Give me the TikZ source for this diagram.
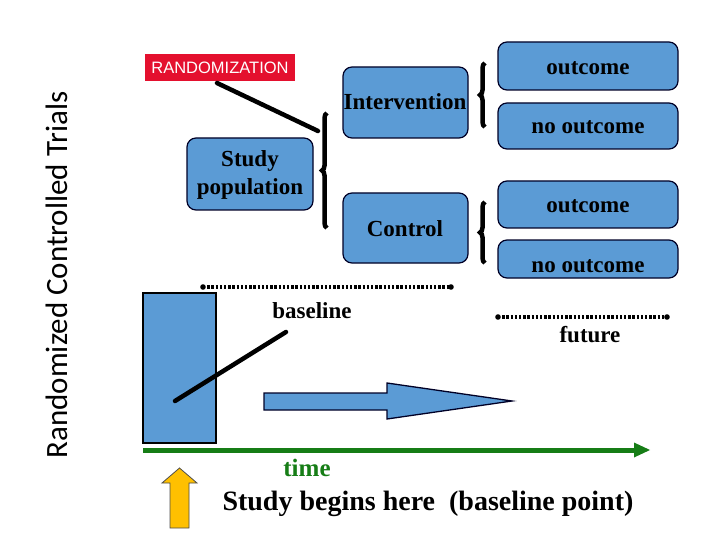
\documentclass[tikz,border=0pt]{standalone}
\usepackage{fontspec}
\setmainfont{Liberation Serif}
\newfontfamily\titlefont{Carlito}
\newfontfamily\arialfont{Liberation Sans}
\usetikzlibrary{decorations.pathreplacing}
\definecolor{boxblue}{RGB}{91,155,213}
\definecolor{randred}{RGB}{228,16,46}
\definecolor{timegreen}{RGB}{22,125,22}
\definecolor{arrowyellow}{RGB}{255,192,0}
\tikzset{
  rbox/.style={draw=black!85!blue, line width=1.2pt, fill=boxblue, rounded corners=9pt, inner sep=0pt},
  lbl/.style={font=\bfseries\fontsize{23}{28}\selectfont, inner sep=0pt, align=center},
  bracestyle/.style={decorate, decoration={brace, amplitude=5pt}, line width=4.5pt},
  dotline/.style={line width=4pt, dash pattern=on 2.4pt off 1.8pt},
  thickline/.style={line width=4.5pt, line cap=round}
}
\begin{document}
\begin{tikzpicture}[x=1pt,y=-1pt]
\useasboundingbox (0,0) rectangle (720,540);
% title
\node[rotate=90, font=\titlefont\fontsize{31}{36}\selectfont, inner sep=0pt] (title) at (57,275) {Randomized Controlled Trials};
% randomization
\node[fill=randred, minimum width=150pt, minimum height=27pt, inner sep=0pt, font=\arialfont\fontsize{16.5}{18}\selectfont, text=white] (rand) at (220,68) {RANDOMIZATION};
% boxes
\node[rbox, minimum width=126pt, minimum height=72pt] (study) at (250,174) {};
\node[lbl] (studyt) at (250,175) {Study\\population};
\node[rbox, minimum width=125pt, minimum height=71pt] (interv) at (405.5,102.5) {};
\node[lbl] (intervt) at (405,102) {Intervention};
\node[rbox, minimum width=125pt, minimum height=70pt] (control) at (405.5,228) {};
\node[lbl] (controlt) at (405,229) {Control};
\node[rbox, minimum width=180pt, minimum height=48pt] (o1) at (588,66) {};
\node[lbl] (o1t) at (588,68) {outcome};
\node[rbox, minimum width=180pt, minimum height=46pt] (o2) at (588,126) {};
\node[lbl] (o2t) at (588,127) {no outcome};
\node[rbox, minimum width=180pt, minimum height=47pt] (o3) at (588,204.5) {};
\node[lbl] (o3t) at (588,206) {outcome};
\node[rbox, minimum width=180pt, minimum height=38pt] (o4) at (588,259) {};
\node[lbl] (o4t) at (588,266) {no outcome};
% braces
\coordinate (b1a) at (327,228); \coordinate (b1b) at (327,113);
\draw[bracestyle] (b1a) -- (b1b);
\coordinate (b2a) at (485,127); \coordinate (b2b) at (485,63);
\draw[bracestyle] (b2a) -- (b2b);
\coordinate (b3a) at (485,263); \coordinate (b3b) at (485,202);
\draw[bracestyle] (b3a) -- (b3b);
% randomization line
\coordinate (r1) at (217,83); \coordinate (r2) at (318,131);
\draw[thickline] (r1) -- (r2);
% dotted lines
\coordinate (d1a) at (203,287); \coordinate (d1b) at (451,287);
\draw[dotline] (d1a) -- (d1b);
\fill (d1a) circle (2.8pt); \fill (d1b) circle (2.8pt);
\coordinate (d2a) at (498,317); \coordinate (d2b) at (667,317);
\draw[dotline] (d2a) -- (d2b);
\fill (d2a) circle (2.8pt); \fill (d2b) circle (2.8pt);
\node[lbl] (baseline) at (312,311) {baseline};
\node[lbl] (future) at (590,335) {future};
% tall rectangle
\node[draw=black, line width=1.5pt, fill=boxblue, minimum width=73pt, minimum height=150pt, inner sep=0pt] (rect) at (179.5,368) {};
\coordinate (l1) at (175,401); \coordinate (l2) at (286,332);
\draw[thickline] (l1) -- (l2);
% block arrow
\draw[fill=boxblue, line width=1.3pt, draw=black!85!blue] (264,393) -- (387,393) -- (387,383) -- (512,401) -- (387,419) -- (387,410) -- (264,410) -- cycle;
% time axis
\coordinate (t1) at (143,450); \coordinate (t2) at (636,450);
\draw[timegreen, line width=5pt] (t1) -- (t2);
\fill[timegreen] (634,442.5) -- (650,450) -- (634,457.5) -- cycle;
\node[font=\bfseries\fontsize{25}{28}\selectfont, text=timegreen, inner sep=0pt] (time) at (307,468) {time};
\node[font=\bfseries\fontsize{28}{32}\selectfont, inner sep=0pt] (begins) at (428,504) {Study begins here\ \ (baseline point)};
% yellow arrow
\draw[fill=arrowyellow, draw=black!70, line width=0.8pt] (170,528) -- (170,483) -- (162,483) -- (179.5,468) -- (197,483) -- (189,483) -- (189,528) -- cycle;
\end{tikzpicture}
\end{document}
